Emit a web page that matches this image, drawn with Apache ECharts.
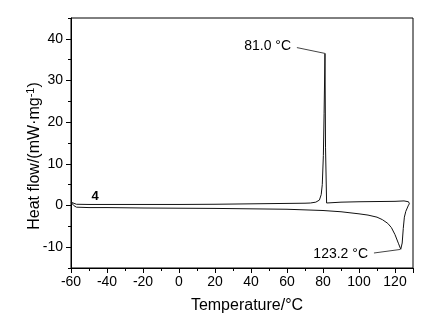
<!DOCTYPE html>
<html>
<head>
<meta charset="utf-8">
<script src="https://cdn.jsdelivr.net/npm/echarts@6/dist/echarts.min.js"></script>
<style>
  html, body { margin: 0; padding: 0; background: #fff; }
  #chart { width: 436px; height: 327px; }
</style>
</head>
<body>
<div id="chart"></div>
<script>
// cooling run (upper trace), ordered hot -> cold
var coolTemp = [128, 127.5, 127, 125, 120, 110, 100, 90, 82, 81.7, 81.4, 81.1, 80.6, 80.2, 79.6, 79, 78, 76, 73, 70, 60, 40, 20, 0, -20, -40, -50, -57, -60]
var coolFlow = [0.4, 0.9, 1.05, 1.1, 1.0, 0.95, 0.9, 0.8, 0.6, 0.6, 14, 36.5, 22, 12, 5, 2.6, 1.3, 0.8, 0.6, 0.55, 0.5, 0.4, 0.3, 0.25, 0.25, 0.25, 0.25, 0.3, 0.8]
// heating run (lower trace), cold -> hot
var heatTemp = [-60, -58.5, -57, -50, -40, -20, 0, 20, 40, 60, 80, 90, 100, 105, 110, 113, 116, 118, 120, 122, 123.2, 124, 124.6, 125.2, 126, 126.8, 127.5, 128]
var heatFlow = [0.8, 0, -0.4, -0.5, -0.5, -0.6, -0.65, -0.7, -0.8, -0.9, -1.2, -1.5, -2.0, -2.3, -2.8, -3.4, -4.3, -5.3, -7.0, -9.2, -10.5, -9.0, -5.5, -2.8, -1.4, -0.6, 0.1, 0.4]

var xTicks = [-60, 130, 20]   // min, max, interval
var yRange = [-15, 45]
var yTickValues = [-10, 0, 10, 20, 30, 40]

var peakCool = [81.1, 36.5]
var peakHeat = [122.9, -10.55]

function pairs(xs, ys) {
  return xs.map(function (x, i) { return [x, ys[i]] })
}

var font = 'Liberation Sans, Arial, sans-serif'
var myChart = echarts.init(document.getElementById('chart'), null, { renderer: 'canvas' })

var curveStyle = { color: '#111', width: 1 }

myChart.setOption({
  animation: false,
  grid: {
    left: 71, right: 23, top: 18, bottom: 59,
    show: true, borderColor: '#000', borderWidth: 1
  },
  xAxis: {
    type: 'value',
    min: xTicks[0], max: xTicks[1], interval: xTicks[2],
    axisLine: { show: true, onZero: false, lineStyle: { color: '#000' } },
    axisTick: { show: true, inside: false, length: 5, lineStyle: { color: '#000' } },
    minorTick: { show: true, splitNumber: 2, length: 3, lineStyle: { color: '#000' } },
    splitLine: { show: false },
    axisLabel: { color: '#000', fontSize: 14, fontFamily: font, margin: 7, showMaxLabel: false },
    name: 'Temperature/°C',
    nameLocation: 'middle',
    nameGap: 30,
    nameTextStyle: { color: '#000', fontSize: 16, fontFamily: font, padding: [0, 0, 0, 10] }
  },
  yAxis: [
    {
      type: 'value',
      min: yRange[0], max: yRange[1],
      axisLine: { show: true, onZero: false, lineStyle: { color: '#000' } },
      axisTick: { show: true, inside: false, length: 5, customValues: yTickValues, lineStyle: { color: '#000' } },
      splitLine: { show: false },
      axisLabel: { color: '#000', fontSize: 14, fontFamily: font, margin: 8, customValues: yTickValues }
    },
    {
      // minor ticks every 5
      type: 'value',
      position: 'left',
      min: yRange[0], max: yRange[1], interval: 5,
      axisLine: { show: false, onZero: false },
      axisTick: { show: true, inside: false, length: 3, lineStyle: { color: '#000' } },
      splitLine: { show: false },
      axisLabel: { show: false }
    }
  ],
  graphic: [
    {
      type: 'text',
      x: 35, y: 156,
      rotation: Math.PI / 2,
      style: {
        text: '{a|Heat flow/(mW·mg}{s|-1}{a|)}',
        align: 'center', verticalAlign: 'middle',
        fill: '#000',
        rich: {
          a: { fontSize: 16, fontFamily: font, lineHeight: 22, fill: '#000' },
          s: { fontSize: 11, fontFamily: font, lineHeight: 22, padding: [0, 0, 9, 0], fill: '#000' }
        }
      }
    },
    {
      type: 'text',
      x: 95, y: 196,
      style: {
        text: '4', fill: '#000', fontSize: 13, fontWeight: 'bold', fontFamily: font,
        align: 'center', verticalAlign: 'middle'
      }
    }
  ],
  series: [
    {
      name: 'cooling',
      type: 'line',
      data: pairs(coolTemp, coolFlow),
      showSymbol: false,
      smooth: false,
      lineStyle: curveStyle,
      silent: true,
      markLine: {
        silent: true,
        symbol: ['none', 'none'],
        lineStyle: { color: '#444', width: 1, type: 'solid' },
        label: { show: true, position: 'start', distance: 6, formatter: '81.0 °C', color: '#000', fontSize: 14, fontFamily: font },
        data: [[{ coord: [65.5, 37.9] }, { coord: peakCool }]]
      }
    },
    {
      name: 'heating',
      type: 'line',
      data: pairs(heatTemp, heatFlow),
      showSymbol: false,
      smooth: false,
      lineStyle: curveStyle,
      silent: true,
      markLine: {
        silent: true,
        symbol: ['none', 'none'],
        lineStyle: { color: '#444', width: 1, type: 'solid' },
        label: { show: true, position: 'start', distance: 6, formatter: '123.2 °C', color: '#000', fontSize: 14, fontFamily: font },
        data: [[{ coord: [108.3, -11.4] }, { coord: peakHeat }]]
      }
    }
  ]
})
</script>
</body>
</html>
